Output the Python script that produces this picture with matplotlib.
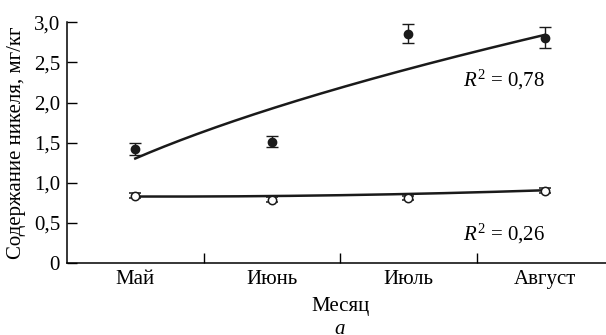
import numpy as np
import matplotlib
matplotlib.use("Agg")
import matplotlib.pyplot as plt

months = ["Май", "Июнь", "Июль", "Август"]
filled_vals = [1.42, 1.51, 2.86, 2.81]
filled_err = [0.07, 0.07, 0.12, 0.13]
open_vals = [0.84, 0.79, 0.81, 0.90]
open_err = [0.03, 0.03, 0.03, 0.03]
# lower trend curve values read at the four months (quadratic trend)
open_trend_read = [0.83, 0.83, 0.865, 0.905]
yticks = [0, 0.5, 1.0, 1.5, 2.0, 2.5, 3.0]
ytick_labels = ["0", "0,5", "1,0", "1,5", "2,0", "2,5", "3,0"]
r2_labels = ["0,78", "0,26"]

plt.rcParams['font.family'] = ['Liberation Serif', 'DejaVu Serif']
plt.rcParams['mathtext.fontset'] = 'custom'
plt.rcParams['mathtext.rm'] = 'Liberation Serif'
plt.rcParams['mathtext.it'] = 'Liberation Serif:italic'

FS = 15
fig = plt.figure(figsize=(6.06, 3.35), dpi=100)
W = 613 - 67
H = 263 - 22.3
ax = fig.add_axes([67/606, 1-263/335, W/606, H/335])

x = np.arange(1, 5)
xs = np.linspace(1, 4, 200)

# power trend for filled series
a, lnb = np.polyfit(np.log(x), np.log(filled_vals), 1)
ax.plot(xs, np.exp(lnb) * xs**a, color='#1a1a1a', lw=1.8, zorder=2)
# quadratic trend for open series
c = np.polyfit(x, open_trend_read, 2)
ax.plot(xs, np.polyval(c, xs), color='#1a1a1a', lw=1.8, zorder=2)

ax.errorbar(x, filled_vals, yerr=filled_err, fmt='o', color='#1a1a1a',
            ms=6, capsize=4, elinewidth=1, capthick=1, zorder=3)
ax.errorbar(x, open_vals, yerr=open_err, fmt='o', color='#1a1a1a',
            mfc='white', mec='#1a1a1a', mew=1.1, ms=6, capsize=4,
            elinewidth=1, capthick=1, zorder=3)

ax.set_xlim(0.5, 4.5)
ax.set_ylim(0, 3.0)
ax.set_yticks(yticks)
ax.set_yticklabels(ytick_labels)
ax.set_xticks([1.5, 2.5, 3.5])
ax.set_xticklabels([])
ax.set_xticks(x, minor=True)
ax.set_xticklabels(months, minor=True)
ax.tick_params(axis='x', which='minor', length=0, pad=5, labelsize=FS)
ax.tick_params(axis='x', which='major', direction='in', length=7, width=1)
ax.tick_params(axis='y', direction='in', length=7, width=1, pad=5, labelsize=FS)

for s in ['top', 'right']:
    ax.spines[s].set_visible(False)
for s in ['left', 'bottom']:
    ax.spines[s].set_linewidth(1.1)

ax.set_ylabel("Содержание никеля, мг/кг", fontsize=FS)
ax.yaxis.set_label_coords((17-67)/W, 0.5)
ax.yaxis.label.set_va('center')
ax.set_xlabel("Месяц", fontsize=FS)
ax.xaxis.set_label_coords((340-67)/W, -(306-263)/H)
ax.xaxis.label.set_va('center')

ax.text(463/606, 1-80/335, r"$\mathit{R}^2$ = " + r2_labels[0], transform=fig.transFigure,
        fontsize=FS, va='center', ha='left')
ax.text(463/606, 1-234/335, r"$\mathit{R}^2$ = " + r2_labels[1], transform=fig.transFigure,
        fontsize=FS, va='center', ha='left')
fig.text(340/606, 1.5/335, "а", style='italic', fontsize=FS, ha='center', va='baseline')

fig.savefig("out.png", dpi=100)
